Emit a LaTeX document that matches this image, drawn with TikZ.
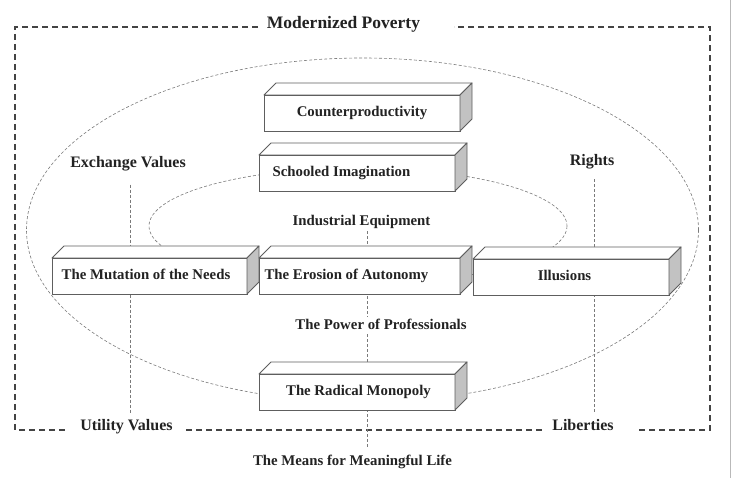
\documentclass[tikz,border=0pt]{standalone}
\usepackage{fontspec}
\setmainfont{Liberation Serif}
\usetikzlibrary{calc}
\definecolor{txt}{HTML}{222222}
\definecolor{edge}{HTML}{5E5E5E}
\definecolor{side}{HTML}{C2C2C2}
\definecolor{frame}{HTML}{444444}
\definecolor{dashc}{HTML}{7A7A7A}
\newcommand\boxfont{\bfseries\fontsize{14.8}{16}\selectfont}
\newcommand\midfont{\bfseries\fontsize{14.8}{16}\selectfont}
\newcommand\cornerfont{\bfseries\fontsize{16}{18}\selectfont}
\newcommand\titlefont{\bfseries\fontsize{17.5}{20}\selectfont}
\newcommand\cubefaces[1]{%
  \draw[face] (#1.north west) -- ++(12,-12) -- ($(#1.north east)+(12,-12)$) -- (#1.north east) -- cycle;
  \draw[face, fill=side] (#1.north east) -- ++(12,-12) -- ($(#1.south east)+(12,-12)$) -- (#1.south east) -- cycle;}
\tikzset{
  cube/.style={draw=edge, line width=0.9pt, fill=white, minimum height=36pt, inner sep=0pt, outer sep=0pt,
    text height=10pt, text depth=3pt, font=\boxfont, text=txt},
  face/.style={draw=edge, line width=0.9pt, fill=white, line join=round},
  lab/.style={font=\midfont, text=txt, inner sep=2pt, anchor=base},
  corner/.style={font=\cornerfont, text=txt, inner sep=2pt, anchor=base},
  ell/.style={draw=dashc, line width=0.6pt, dash pattern=on 3pt off 2pt},
  vline/.style={draw=dashc, line width=0.6pt, dash pattern=on 3pt off 2pt},
  framel/.style={draw=frame, line width=1.1pt, dash pattern=on 6pt off 4pt},
}
\begin{document}
\begin{tikzpicture}[x=1pt,y=-1pt]
\useasboundingbox (0,0) rectangle (734,478);
% right edge line
\draw[gray!55, line width=0.8pt] (730,0) -- (730,478);
% labels
\node[font=\titlefont, text=txt, inner sep=2pt, anchor=base] (title) at (343.5,29) {Modernized Poverty};
\node[corner] (exch) at (128,168) {Exchange Values};
\node[corner] (rights) at (592,166) {Rights};
\node[corner] (util) at (126.5,430) {Utility Values};
\node[corner] (lib) at (583,431) {Liberties};
\node[lab] (indeq) at (361.5,226) {Industrial Equipment};
\node[lab] (power) at (381,330) {The Power of Professionals};
\node[lab] (means) at (352.5,465) {The Means for Meaningful Life};
% frame
\coordinate (f1) at (258,27); \coordinate (f2) at (15,27); \coordinate (f3) at (15,430);
\coordinate (f4) at (65,430); \coordinate (f5) at (186,430); \coordinate (f6) at (545,430);
\coordinate (f7) at (639,430); \coordinate (f8) at (710,430); \coordinate (f9) at (710,27);
\coordinate (f10) at (454,27);
\draw[framel] (f1) -- (f2) -- (f3) -- (f4);
\draw[framel] (f5) -- (f6);
\draw[framel] (f7) -- (f8) -- (f9) -- (f10);
% ellipses
\draw[ell] (362.5,230) ellipse [x radius=336, y radius=172];
\draw[ell] (358,226) ellipse [x radius=209, y radius=58];
% vertical lines
\coordinate (exX) at (130,0);
\coordinate (riX) at (594,0);
\coordinate (ceX) at (367,0);
\draw[vline, shorten <=11pt, shorten >=2pt] (exch.south -| exX) -- (util.north -| exX);
\draw[vline, shorten <=7.5pt, shorten >=5pt] (rights.south -| riX) -- (lib.north -| riX);
\draw[vline] (indeq.south -| ceX) -- (power.north -| ceX);
\draw[vline, shorten <=2pt, shorten >=4pt] (power.south -| ceX) -- (means.north -| ceX);
% boxes
\node[cube, minimum width=196pt] (counter) at (362,113) {Counterproductivity};
\cubefaces{counter}
\node[cube, minimum width=196pt] (schooled) at (357,173) {\hspace*{-31pt}Schooled Imagination};
\cubefaces{schooled}
\node[cube, minimum width=195pt] (mutation) at (149.5,276) {\hspace*{-7pt}The Mutation of the Needs};
\cubefaces{mutation}
\node[cube, minimum width=196pt] (illusions) at (571,277) {\hspace*{-13pt}Illusions};
\cubefaces{illusions}
\node[cube, minimum width=201pt] (erosion) at (359.5,276) {\hspace*{-26pt}The Erosion of Autonomy};
\cubefaces{erosion}
\node[cube, minimum width=196pt] (radical) at (357,392) {\hspace*{3pt}The Radical Monopoly};
\cubefaces{radical}
\end{tikzpicture}
\end{document}
